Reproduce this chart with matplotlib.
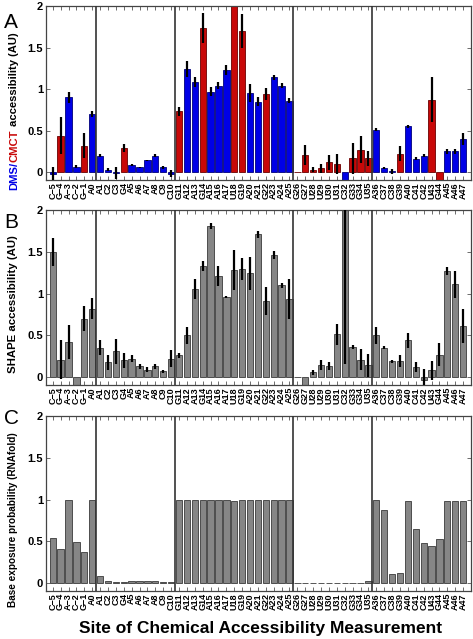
import matplotlib.pyplot as plt
import numpy as np

plt.rcParams['font.family'] = ['Liberation Sans', 'DejaVu Sans']

# nucleotide sites, -5 .. 47
sites = ['C-5', 'G-4', 'A-3', 'C-2', 'G-1', 'A0', 'A1', 'C2', 'C3', 'G4',
         'A5', 'A6', 'A7', 'A8', 'C9', 'C10', 'G11', 'A12', 'A13', 'G14',
         'A15', 'A16', 'A17', 'U18', 'G19', 'A20', 'A21', 'G22', 'A23', 'A24',
         'A25', 'G26', 'G27', 'U28', 'U29', 'U30', 'U31', 'C32', 'G33', 'G34',
         'U35', 'A36', 'C37', 'C38', 'G39', 'A40', 'C41', 'C42', 'U43', 'G44',
         'A45', 'A46', 'A47']
sites = [s.replace('-', '\u2212') for s in sites]

# panel A: DMS (A,C) / CMCT (G,U)
dms_cmct = [-0.02, 0.44, 0.90, 0.064, 0.32, 0.70, 0.20, 0.03, -0.01, 0.29,
            0.088, 0.056, 0.14, 0.20, 0.056, -0.02, 0.73, 1.24, 1.08, 1.73,
            0.97, 1.04, 1.23, 2.30, 1.70, 0.95, 0.85, 0.94, 1.14, 1.04,
            0.86, 0.0, 0.21, 0.03, 0.045, 0.12, 0.10, -0.12, 0.165, 0.27,
            0.165, 0.51, 0.05, 0.01, 0.22, 0.55, 0.16, 0.20, 0.87, -0.12,
            0.25, 0.25, 0.40]
dms_cmct_err = [0.08, 0.22, 0.07, 0.02, 0.15, 0.04, 0.02, 0.02, 0.07, 0.05,
                0.01, 0.01, 0.01, 0.015, 0.015, 0.04, 0.05, 0.10, 0.06, 0.18,
                0.05, 0.04, 0.06, 0.0, 0.20, 0.11, 0.05, 0.07, 0.03, 0.03,
                0.03, 0.0, 0.12, 0.03, 0.05, 0.09, 0.12, 0.0, 0.19, 0.16,
                0.09, 0.02, 0.01, 0.03, 0.09, 0.02, 0.02, 0.02, 0.27, 0.0,
                0.03, 0.03, 0.07]

# panel B: SHAPE
shape = [1.50, 0.21, 0.42, -0.15, 0.70, 0.82, 0.35, 0.18, 0.31, 0.20,
         0.22, 0.13, 0.09, 0.13, 0.07, 0.22, 0.26, 0.50, 1.05, 1.33,
         1.81, 1.21, 0.96, 1.28, 1.29, 1.24, 1.71, 0.91, 1.46, 1.10,
         0.93, 0.0, -0.15, 0.06, 0.14, 0.13, 0.51, 3.00, 0.36, 0.21,
         0.14, 0.50, 0.35, 0.19, 0.19, 0.44, 0.12, -0.03, 0.08, 0.27,
         1.27, 1.11, 0.61]
shape_err = [0.17, 0.23, 0.20, 0.0, 0.15, 0.13, 0.09, 0.09, 0.15, 0.09,
             0.04, 0.03, 0.03, 0.03, 0.02, 0.10, 0.03, 0.10, 0.12, 0.06,
             0.04, 0.12, 0.01, 0.24, 0.13, 0.20, 0.04, 0.17, 0.05, 0.03,
             0.24, 0.0, 0.03, 0.03, 0.06, 0.05, 0.13, 2.84, 0.02, 0.13,
             0.14, 0.10, 0.02, 0.02, 0.07, 0.09, 0.06, 0.13, 0.11, 0.14,
             0.05, 0.16, 0.20]

# panel C: RNAfold base exposure probability
rnafold = [0.54, 0.41, 1.0, 0.49, 0.37, 0.99, 0.08, 0.03, 0.01, 0.01,
           0.03, 0.03, 0.03, 0.03, 0.015, 0.01, 0.99, 1.0, 0.99, 0.995,
           1.0, 1.0, 1.0, 0.98, 0.99, 1.0, 1.0, 1.0, 1.0, 1.0,
           1.0, 0.004, 0.004, 0.003, 0.003, 0.003, 0.003, 0.003, 0.003, 0.004,
           0.03, 1.0, 0.88, 0.11, 0.12, 0.98, 0.65, 0.48, 0.44, 0.53,
           0.98, 0.98, 0.98]

dividers = [5.5, 15.5, 30.5, 40.5]

W, H = 473, 639
fig = plt.figure(figsize=(W / 100, H / 100), dpi=100)

x = np.arange(len(sites))
blue = '#0000e6'
red = '#c80808'
gray = '#868686'
colors = [blue if s[0] in 'AC' else red for s in sites]
edges = ['#00007a' if s[0] in 'AC' else '#6a0000' for s in sites]

boxes = [[0.0973, 0.7183, 0.8985, 0.2723],
         [0.0973, 0.3975, 0.8985, 0.2739],
         [0.0973, 0.0751, 0.8985, 0.2739]]
axes = [fig.add_axes(b) for b in boxes]

ax = axes[0]
ax.bar(x, dms_cmct, width=0.8, color=colors, edgecolor=edges, linewidth=0.6, zorder=2)
ax.errorbar(x, dms_cmct, yerr=dms_cmct_err, fmt='none', ecolor='black', elinewidth=1.6, capsize=0, zorder=3)

ax = axes[1]
ax.bar(x, shape, width=0.8, color=gray, edgecolor='#3a3a3a', linewidth=0.6, zorder=2)
ax.errorbar(x, shape, yerr=shape_err, fmt='none', ecolor='black', elinewidth=1.6, capsize=0, zorder=3)

ax = axes[2]
ax.bar(x, rnafold, width=0.8, color=gray, edgecolor='#3a3a3a', linewidth=0.6, zorder=2)

for ax in axes:
    ax.set_xlim(-0.85, 53)
    ax.set_ylim(-0.095, 2)
    for d in dividers:
        ax.axvline(d, color='#333333', lw=1.2, zorder=4)
    ax.set_xticks(x)
    ax.set_xticklabels(sites, rotation=90, fontsize=6.5, fontweight='bold')
    ax.set_yticks([0, 0.5, 1, 1.5, 2])
    ax.set_yticklabels(['0', '0.5', '1', '1.5', '2'], fontsize=8, fontweight='bold')
    ax.tick_params(axis='x', direction='in', top=True, length=3.2, width=0.6, color='#555555', pad=1.5)
    ax.tick_params(axis='y', direction='in', right=True, length=3.2, width=0.6, color='#555555', pad=2)
    for sp in ax.spines.values():
        sp.set_color('#444444')
        sp.set_linewidth(0.9)

# panel letters
fig.text(4 / W, 1 - 22 / H, 'A', fontsize=15, va='center', ha='left')
fig.text(4 / W, 1 - 222 / H, 'B', fontsize=15, va='center', ha='left')
fig.text(4 / W, 1 - 418 / H, 'C', fontsize=15, va='center', ha='left')

# y labels
fig.text(13 / W, 1 - 304 / H, 'SHAPE accessibility (AU)', rotation=90,
         fontsize=8.2, fontweight='bold', ha='center', va='center')
fig.text(13 / W, 1 - 520 / H, 'Base exposure probability (RNAfold)', rotation=90,
         fontsize=7.2, fontweight='bold', ha='center', va='center')

r = fig.canvas.get_renderer()
parts = [('DMS/', blue), ('CMCT', red), ('accessibility (AU)', 'black')]
pieces = [fig.text(0, 0, s, color=c, rotation=90, rotation_mode='anchor',
                   ha='left', va='baseline', fontsize=8.1, fontweight='bold')
          for s, c in parts]
lens = [p.get_window_extent(r).height for p in pieces]
gap = 3.0
total = sum(lens) + gap
y0 = (H - 111) - total / 2
for k, (p, L) in enumerate(zip(pieces, lens)):
    p.set_position((17 / W, y0 / H))
    y0 += L + (gap if k == 1 else 0)

fig.text(261 / W, 11 / H, 'Site of Chemical Accessibility Measurement',
         fontsize=12.5, fontweight='bold', ha='center', va='center')

fig.savefig('out.png', dpi=100)
